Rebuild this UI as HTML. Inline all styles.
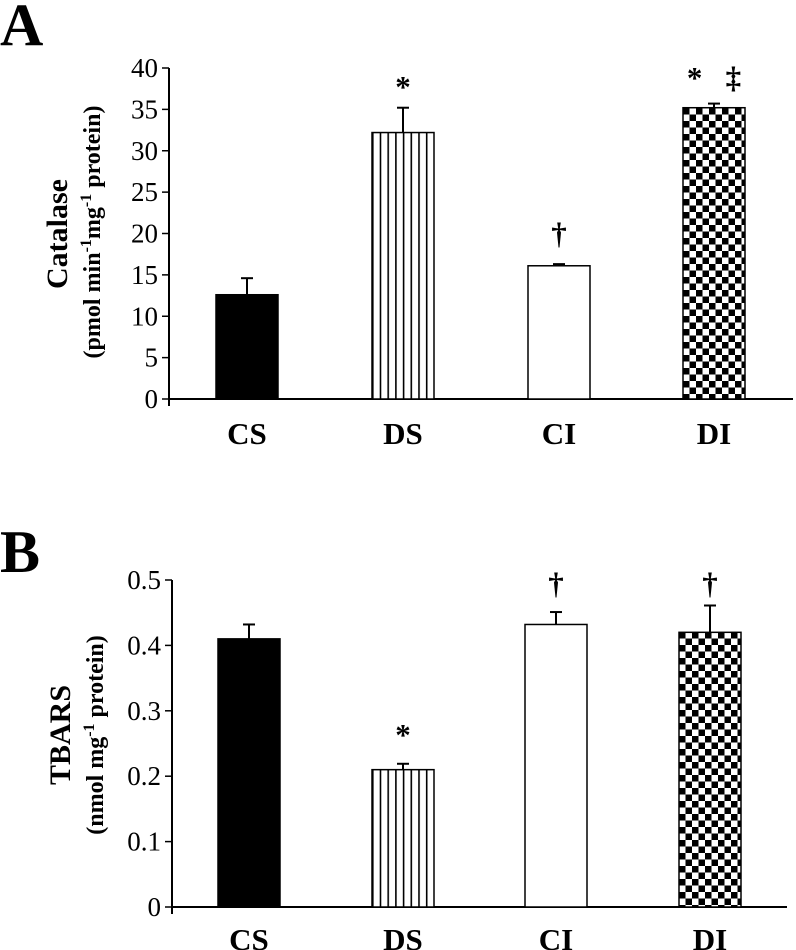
<!DOCTYPE html>
<html><head><meta charset="utf-8"><style>
html,body{margin:0;padding:0;background:#fff;}
svg{display:block;font-family:"Liberation Serif",serif;}
</style></head><body>
<svg id="chart" width="796" height="950" viewBox="0 0 796 950">
<defs>
<pattern id="stripes" patternUnits="userSpaceOnUse" width="7.7" height="10" x="372">
<rect width="7.7" height="10" fill="#fff"/><rect x="0" width="1.6" height="10" fill="#000"/></pattern>
<pattern id="checkA" patternUnits="userSpaceOnUse" width="13" height="13" x="683" y="108">
<rect width="13" height="13" fill="#fff"/><rect width="6.5" height="6.5" fill="#000"/><rect x="6.5" y="6.5" width="6.5" height="6.5" fill="#000"/></pattern>
<pattern id="checkB" patternUnits="userSpaceOnUse" width="13" height="13" x="679" y="632">
<rect width="13" height="13" fill="#fff"/><rect width="6.5" height="6.5" fill="#000"/><rect x="6.5" y="6.5" width="6.5" height="6.5" fill="#000"/></pattern>
</defs>
<g id="panelA"></g>
<g id="panelB"></g>
</svg>
<script>
const categories = ["CS","DS","CI","DI"];
const catalaseValues = [12.6, 32.2, 16.1, 35.2];
const catalaseErrors = [2.0, 3.0, 0.2, 0.5];
const catalaseMarks = ["", "*", "†", "*\u00a0\u00a0\u00a0‡"];
const catalaseTicks = [0,5,10,15,20,25,30,35,40];
const tbarsValues = [0.41, 0.21, 0.432, 0.42];
const tbarsErrors = [0.022, 0.009, 0.019, 0.041];
const tbarsMarks = ["", "*", "†", "†"];
const tbarsTicks = ["0","0.1","0.2","0.3","0.4","0.5"];

const NS = "http://www.w3.org/2000/svg";
function mk(parent, tag, attrs, text){
  const e = document.createElementNS(NS, tag);
  for (const k in attrs) e.setAttribute(k, attrs[k]);
  if (text !== undefined) e.textContent = text;
  parent.appendChild(e);
  return e;
}

function drawPanel(g, cfg){
  const {x0, y0, yTop, xEnd, max, values, errors, marks, ticks, barLefts, fills, bw, catY, markY} = cfg;
  const yS = v => y0 - (v / max) * (y0 - yTop);
  const ya = mk(g,"line",{x1:x0,y1:yTop,x2:x0,y2:y0+7,stroke:"#000","stroke-width":2});
  
  
  const xa = mk(g,"line",{x1:x0,y1:y0,x2:xEnd,y2:y0,stroke:"#000","stroke-width":2});
  
  
  ticks.forEach(t=>{
    const v = parseFloat(t);
    const y = yS(v);
    const tk = mk(g,"line",{x1:x0-7,y1:y,x2:x0,y2:y,stroke:"#000","stroke-width":1.5});
    
    
    const tl = mk(g,"text",{x:x0-11,y:y+9,"text-anchor":"end","font-size":27},String(t));
    
    
  });
  values.forEach((v,i)=>{
    const x = barLefts[i], yt = yS(v);
    const b = mk(g,"rect",{x:x,y:yt,width:bw,height:y0-yt,fill:fills[i],stroke:"#000","stroke-width":1.5});
    
    
    const cx = x + bw/2, ye = yS(v + errors[i]);
    const eg = mk(g,"g",{});
    
    
    mk(eg,"line",{x1:cx,y1:yt,x2:cx,y2:ye,stroke:"#000","stroke-width":2});
    mk(eg,"line",{x1:cx-6,y1:ye,x2:cx+6,y2:ye,stroke:"#000","stroke-width":2});
    if (marks[i]) {
      const m = mk(g,"text",{x:cx,y:markY[i],"text-anchor":"middle","font-size":31,"font-weight":"bold"},marks[i]);
      
      
    }
    const cl = mk(g,"text",{x:cx,y:catY,"text-anchor":"middle","font-size":31,"font-weight":"bold"},categories[i]);
    
    
  });
}

const gA = document.getElementById("panelA");
const la = mk(gA,"text",{x:0,y:45,"font-size":60,"font-weight":"bold"},"A");


const tA = mk(gA,"text",{transform:"translate(67,234) rotate(-90)","text-anchor":"middle","font-size":30,"font-weight":"bold"},"Catalase");


const sA = mk(gA,"text",{transform:"translate(100,232) rotate(-90)","text-anchor":"middle","font-size":24,"font-weight":"bold"});


sA.innerHTML = '(pmol min<tspan dy="-9" font-size="16">-1</tspan><tspan dy="9">mg</tspan><tspan dy="-9" font-size="16">-1</tspan><tspan dy="9"> protein)</tspan>';
drawPanel(gA,{x0:169,y0:399,yTop:68,xEnd:793,max:40,values:catalaseValues,errors:catalaseErrors,marks:catalaseMarks,
  ticks:catalaseTicks,barLefts:[216,372,528,683],fills:["#000","url(#stripes)","#fff","url(#checkA)"],bw:62,catY:444,markY:[0,97,244,88]});

const gB = document.getElementById("panelB");
const lb = mk(gB,"text",{x:0,y:572,"font-size":60,"font-weight":"bold"},"B");


const tB = mk(gB,"text",{transform:"translate(70,735) rotate(-90)","text-anchor":"middle","font-size":30,"font-weight":"bold"},"TBARS");


const sB = mk(gB,"text",{transform:"translate(103,735) rotate(-90)","text-anchor":"middle","font-size":24,"font-weight":"bold"});


sB.innerHTML = '(nmol mg<tspan dy="-9" font-size="16">-1</tspan><tspan dy="9"> protein)</tspan>';
drawPanel(gB,{x0:172,y0:907,yTop:580,xEnd:787,max:0.5,values:tbarsValues,errors:tbarsErrors,marks:tbarsMarks,
  ticks:tbarsTicks,barLefts:[218,372,525,679],fills:["#000","url(#stripes)","#fff","url(#checkB)"],bw:62,catY:950,markY:[0,745,594,594]});
</script>
</body></html>
